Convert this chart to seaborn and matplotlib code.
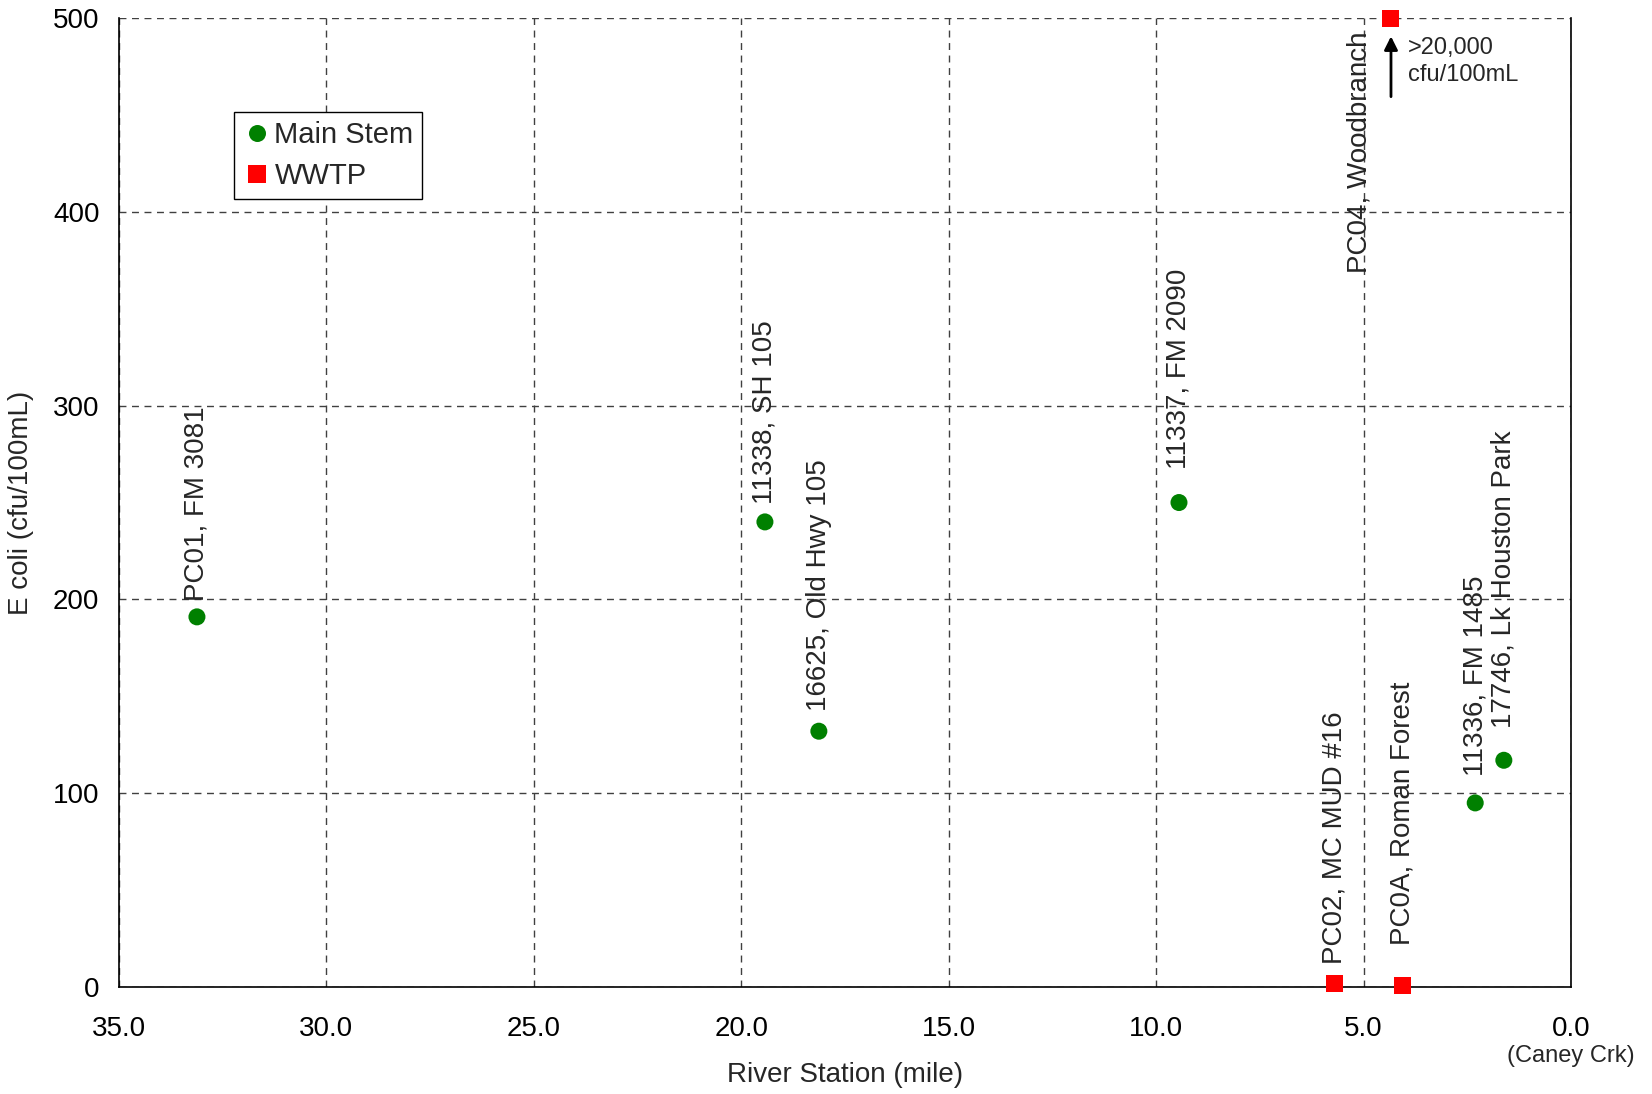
import matplotlib
matplotlib.use("Agg")
import matplotlib.pyplot as plt
import seaborn as sns
import pandas as pd

# -----------------------
# Data
# -----------------------
stations = ["PC01, FM 3081", "11338, SH 105", "16625, Old Hwy 105", "11337, FM 2090",
            "11336, FM 1485", "17746, Lk Houston Park",
            "PC02, MC MUD #16", "PC0A, Roman Forest", "PC04, Woodbranch"]
river_mile = [33.12, 19.43, 18.13, 9.45, 2.31, 1.62, 5.71, 4.06, 4.34]
ecoli = [191, 240, 132, 250, 95, 117, 2, 1, 500]
site_type = ["Main Stem"] * 6 + ["WWTP"] * 3

x_ticks = [35, 30, 25, 20, 15, 10, 5, 0]
y_ticks = [0, 100, 200, 300, 400, 500]

# label offset above each point (points), PC04 label handled separately
label_offsets = [11.5, 13, 14.5, 24.5, 19.5, 23, 13.5, 29, None]

df = pd.DataFrame({"station": stations, "mile": river_mile,
                   "ecoli": ecoli, "type": site_type})

sns.set_style("white")
plt.rcParams["font.family"] = ["Liberation Sans", "DejaVu Sans"]

fig = plt.figure(figsize=(16.52, 10.94), dpi=100)
ax = fig.add_axes([0.072, 0.0978, 0.879, 0.8857])

sns.scatterplot(data=df, x="mile", y="ecoli", hue="type", style="type",
                hue_order=["Main Stem", "WWTP"], style_order=["Main Stem", "WWTP"],
                palette={"Main Stem": "#008000", "WWTP": "#FF0000"},
                markers={"Main Stem": "o", "WWTP": "s"},
                s=150, linewidth=0, ax=ax, zorder=5)
for c in ax.collections:
    c.set_clip_on(False)

ax.set_xlim(35, 0)
ax.set_ylim(0, 500)
ax.set_xticks(x_ticks)
ax.set_xticklabels([f"{v:.1f}" for v in x_ticks])
ax.set_yticks(y_ticks)
ax.set_yticklabels([str(v) for v in y_ticks])
ax.tick_params(axis="both", direction="out", length=6, width=1, color="black",
               labelsize=20, colors="black")
ax.tick_params(axis="x", pad=15)
ax.tick_params(axis="y", pad=8)

ax.grid(True, linestyle=(0, (5, 4)), color="#404040", linewidth=1.0)
ax.set_axisbelow(True)
for side in ["left", "bottom", "right"]:
    ax.spines[side].set_color("black")
    ax.spines[side].set_linewidth(1.2)
ax.spines["top"].set_visible(False)

ax.set_xlabel("River Station (mile)", fontsize=20, labelpad=14)
ax.set_ylabel("E coli (cfu/100mL)", fontsize=20, labelpad=14)

ax.text(0, -0.06, "(Caney Crk)", transform=ax.get_xaxis_transform(),
        ha="center", va="top", fontsize=17)

# station labels
for name, xv, yv, off in zip(stations, river_mile, ecoli, label_offsets):
    if off is None:
        continue
    ax.annotate(name, (xv, yv), xytext=(0, off), textcoords="offset points",
                rotation=90, ha="center", va="bottom", fontsize=20)

ax.text(5.1, 493, stations[-1], rotation=90, ha="center", va="top", fontsize=20)

# off-scale marker for PC04
ax.annotate("", xy=(river_mile[-1], 492), xytext=(river_mile[-1], 458),
            arrowprops=dict(arrowstyle="-|>", color="black", lw=2,
                            mutation_scale=20))
ax.text(3.94, 490, ">20,000\ncfu/100mL", ha="left", va="top", fontsize=17,
        linespacing=1.25)

leg = ax.legend(loc="upper left", bbox_to_anchor=(0.079, 0.903), fontsize=21,
                frameon=True, fancybox=False, handletextpad=0.1,
                borderpad=0.3, labelspacing=0.45, handlelength=1.0,
                borderaxespad=0, markerscale=1.0)
leg.get_frame().set_edgecolor("black")
leg.get_frame().set_linewidth(1.0)
leg.get_frame().set_alpha(1)

plt.savefig("out.png", dpi=100)
